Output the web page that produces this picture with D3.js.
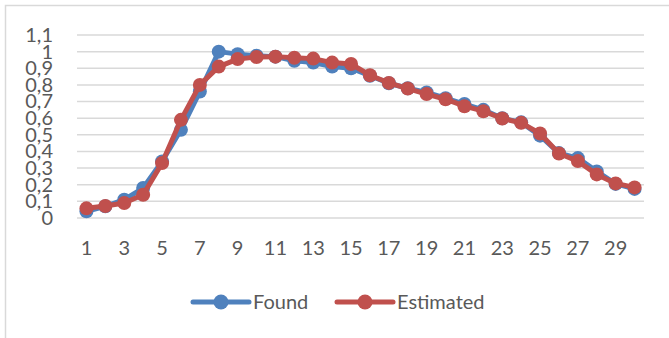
<!DOCTYPE html>
<html>
<head>
<meta charset="utf-8">
<script src="https://cdn.jsdelivr.net/npm/d3@7"></script>
<style>
  body { margin: 0; background: #fff; }
  text { font-family: Lato, "Open Sans", sans-serif; fill: #595959; }
</style>
</head>
<body>
<div id="chart"></div>
<script>
const categories = [1, 2, 3, 4, 5, 6, 7, 8, 9, 10, 11, 12, 13, 14, 15,
                    16, 17, 18, 19, 20, 21, 22, 23, 24, 25, 26, 27, 28, 29, 30];
const found = [0.04, 0.07, 0.11, 0.18, 0.34, 0.53, 0.76, 1.0, 0.985, 0.975,
               0.97, 0.945, 0.935, 0.91, 0.9, 0.855, 0.81, 0.78, 0.755, 0.72,
               0.685, 0.65, 0.6, 0.575, 0.495, 0.39, 0.36, 0.28, 0.205, 0.175];
const estimated = [0.058, 0.072, 0.09, 0.14, 0.33, 0.59, 0.8, 0.91, 0.955, 0.968,
                   0.97, 0.963, 0.958, 0.934, 0.926, 0.858, 0.812, 0.778, 0.745, 0.714,
                   0.672, 0.642, 0.598, 0.572, 0.508, 0.388, 0.342, 0.262, 0.208, 0.184];
const yTicks = [0, 0.1, 0.2, 0.3, 0.4, 0.5, 0.6, 0.7, 0.8, 0.9, 1, 1.1];
const seriesNames = ["Found", "Estimated"];
const seriesColors = ["#4f81bd", "#c0504d"];

const width = 669, height = 338;
const plotLeft = 77, plotRight = 644, plotTop = 35, plotBottom = 218;

const svg = d3.select("#chart").append("svg")
  .attr("width", width)
  .attr("height", height);

// chart area border (only top and left visible)
svg.append("path")
  .attr("d", `M5.5,${height} V5.5 H${width}`)
  .attr("fill", "none")
  .attr("stroke", "#d9d9d9")
  .attr("stroke-width", 1.5);

const x = d3.scaleBand().domain(categories).range([plotLeft, plotRight]);
const y = d3.scaleLinear().domain([0, 1.1]).range([plotBottom, plotTop]);

const locale = d3.formatLocale({decimal: ",", thousands: ".", grouping: [3], currency: ["", ""]});
const fmt = locale.format("~g");

// gridlines
svg.append("g")
  .selectAll("line")
  .data(yTicks)
  .join("line")
  .attr("x1", plotLeft)
  .attr("x2", plotRight)
  .attr("y1", d => y(d))
  .attr("y2", d => y(d))
  .attr("stroke", "#d9d9d9")
  .attr("stroke-width", 1.5);

// y axis labels
const yAxis = svg.append("g")
  .attr("transform", `translate(${plotLeft - 24},0)`)
  .call(d3.axisLeft(y).tickValues(yTicks).tickFormat(fmt).tickSize(0).tickPadding(0));
yAxis.select(".domain").remove();
yAxis.selectAll("text")
  .attr("font-size", 20)
  .attr("fill", "#595959");

// x axis labels
const xAxis = svg.append("g")
  .attr("transform", `translate(0,${plotBottom})`)
  .call(d3.axisBottom(x).tickValues(categories.filter((d, i) => i % 2 === 0)).tickSize(0).tickPadding(23));
xAxis.select(".domain").remove();
xAxis.selectAll("text")
  .attr("font-size", 20)
  .attr("fill", "#595959");

const line = d3.line()
  .x((d, i) => x(categories[i]) + x.bandwidth() / 2)
  .y(d => y(d));

[found, estimated].forEach((vals, s) => {
  const g = svg.append("g");
  g.append("path")
    .datum(vals)
    .attr("d", line)
    .attr("fill", "none")
    .attr("stroke", seriesColors[s])
    .attr("stroke-width", 5)
    .attr("stroke-linejoin", "round");
  g.selectAll("circle")
    .data(vals)
    .join("circle")
    .attr("cx", (d, i) => x(categories[i]) + x.bandwidth() / 2)
    .attr("cy", d => y(d))
    .attr("r", 7)
    .attr("fill", seriesColors[s]);
});

// legend
const legendX = [193, 337];
const legend = svg.append("g")
  .selectAll("g")
  .data(seriesNames)
  .join("g")
  .attr("transform", (d, i) => `translate(${legendX[i]},302)`);
legend.append("line")
  .attr("x1", 0).attr("x2", 56)
  .attr("stroke", (d, i) => seriesColors[i])
  .attr("stroke-width", 5)
  .attr("stroke-linecap", "round");
legend.append("circle")
  .attr("cx", 28)
  .attr("r", 7.5)
  .attr("fill", (d, i) => seriesColors[i]);
legend.append("text")
  .attr("x", 60)
  .attr("y", 7)
  .attr("font-size", 20)
  .text(d => d);
</script>
</body>
</html>
